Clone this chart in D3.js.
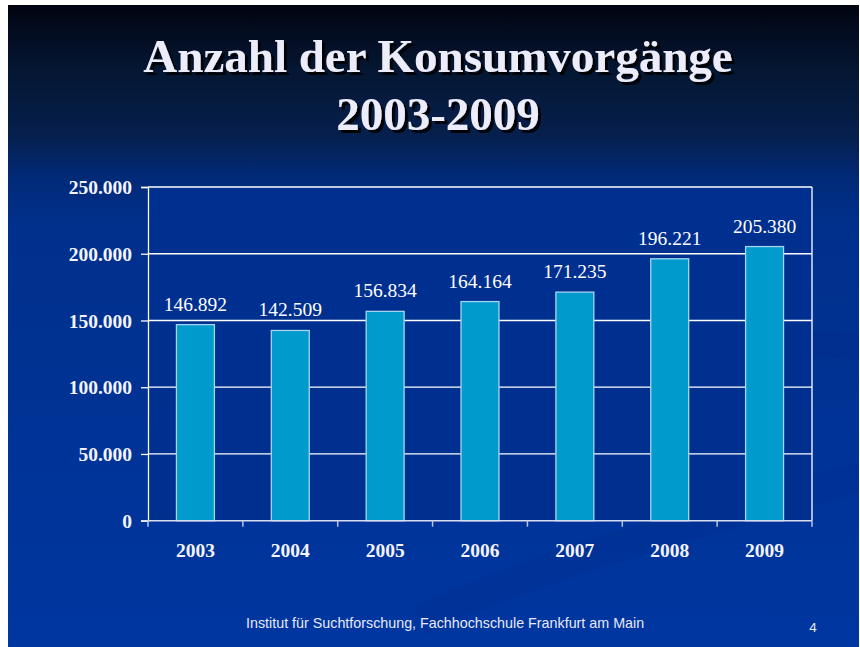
<!DOCTYPE html>
<html><head><meta charset="utf-8">
<script src="https://cdn.jsdelivr.net/npm/d3@7/dist/d3.min.js"></script>
<style>html,body{margin:0;padding:0;background:#fff;}svg{display:block;}</style>
</head><body>
<script>
const years = ["2003","2004","2005","2006","2007","2008","2009"];
const counts = [146892, 142509, 156834, 164164, 171235, 196221, 205380];
const yTicks = [0, 50000, 100000, 150000, 200000, 250000];
const titleLines = ["Anzahl der Konsumvorgänge", "2003-2009"];
const footerText = "Institut für Suchtforschung, Fachhochschule Frankfurt am Main";
const pageNumber = "4";

const W = 860, H = 647;
const svg = d3.select("body").append("svg").attr("width", W).attr("height", H);
const defs = svg.append("defs");
const bg = defs.append("linearGradient").attr("id","bg").attr("x1",0).attr("y1",0).attr("x2",0).attr("y2",1);
[[0,"#02030f"],[0.03,"#030a1c"],[0.1,"#041631"],[0.2,"#061f4c"],[0.27,"#012a78"],[0.34,"#00308c"],[1,"#0036a0"]]
  .forEach(([o,c]) => bg.append("stop").attr("offset",o).attr("stop-color",c));
const sh = defs.append("filter").attr("id","tshadow").attr("x","-5%").attr("y","-20%").attr("width","110%").attr("height","140%");
sh.append("feDropShadow").attr("dx",3).attr("dy",3).attr("stdDeviation",0.6).attr("flood-color","#000").attr("flood-opacity",0.9);

const slide = {x: 8, y: 5, w: 851, h: 642};
defs.append("clipPath").attr("id","slideclip").append("rect")
  .attr("x",slide.x).attr("y",slide.y).attr("width",slide.w).attr("height",slide.h);
svg.append("rect").attr("x",slide.x).attr("y",slide.y).attr("width",slide.w).attr("height",slide.h).attr("fill","url(#bg)");

// subtle swooshes
const sw = svg.append("g").attr("fill","none").attr("clip-path","url(#slideclip)");
sw.append("path").attr("d","M 500 470 C 620 360, 780 330, 880 350").attr("stroke","#002c8c").attr("stroke-width",26).attr("opacity",0.35);
sw.append("path").attr("d","M 700 360 C 640 390, 640 450, 760 500").attr("stroke","#002c8c").attr("stroke-width",18).attr("opacity",0.3);
sw.append("path").attr("d","M 420 620 C 600 540, 760 510, 880 470").attr("stroke","#002c8c").attr("stroke-width",30).attr("opacity",0.3);

// title
const title = svg.append("g").attr("filter","url(#tshadow)")
  .attr("font-family","'Liberation Serif','Times New Roman',serif").attr("font-weight","bold")
  .attr("font-size",47).attr("fill","#ececfa").attr("text-anchor","middle");
titleLines.forEach((t,i) => title.append("text").attr("x",438).attr("y",72 + i*58).text(t));

// chart
const m = {left:148, right:812, top:187, bottom:520.7};
const x = d3.scaleBand().domain(years).range([m.left, m.right]).paddingInner(0.6).paddingOuter(0.3);
const y = d3.scaleLinear().domain([0, 250000]).range([m.bottom, m.top]);
const loc = d3.formatLocale({decimal:",", thousands:".", grouping:[3], currency:["","€"]});
const fmt = loc.format(",d");

const g = svg.append("g");
g.append("rect").attr("x",m.left).attr("y",m.top).attr("width",m.right-m.left).attr("height",m.bottom-m.top).attr("fill","#00308f");

g.append("g").selectAll("line").data(yTicks.filter(d=>d>0)).join("line")
  .attr("x1",m.left).attr("x2",m.right).attr("y1",d=>y(d)).attr("y2",d=>y(d))
  .attr("stroke","#ffffff").attr("stroke-width",1.3);
g.append("line").attr("x1",m.right).attr("x2",m.right).attr("y1",m.top).attr("y2",m.bottom).attr("stroke","#fff").attr("stroke-width",1.3);

g.append("g").selectAll("rect").data(counts).join("rect")
  .attr("x",(d,i)=>x(years[i])).attr("width",x.bandwidth())
  .attr("y",d=>y(d)).attr("height",d=>y(0)-y(d))
  .attr("fill","#009acd").attr("stroke","#a6d4f0").attr("stroke-width",1.3);

g.append("g").selectAll("text").data(counts).join("text")
  .attr("x",(d,i)=>x(years[i])+x.bandwidth()/2).attr("y",d=>y(d)-14)
  .attr("text-anchor","middle").attr("font-family","'Liberation Serif','Times New Roman',serif")
  .attr("font-size",19.5).attr("fill","#ffffff").text(d=>fmt(d));

const yAxis = d3.axisLeft(y).tickValues(yTicks).tickFormat(d=>fmt(d)).tickSize(7).tickPadding(9);
const ya = g.append("g").attr("transform",`translate(${m.left},0)`).call(yAxis);
ya.select(".domain").attr("stroke","#fff").attr("stroke-width",1.3);
ya.selectAll(".tick line").attr("stroke","#fff").attr("stroke-width",1.3);
ya.selectAll("text").attr("font-family","'Liberation Serif','Times New Roman',serif").attr("font-weight","bold")
  .attr("font-size",19.5).attr("fill","#f4f4ff").attr("dy","0.34em");

const bounds = d3.range(years.length+1).map(i => m.left + i*(m.right-m.left)/years.length);
g.append("line").attr("x1",m.left-7).attr("x2",m.right).attr("y1",m.bottom).attr("y2",m.bottom).attr("stroke","#d8def0").attr("stroke-width",1.5);
g.append("g").selectAll("line").data(bounds).join("line")
  .attr("x1",d=>d).attr("x2",d=>d).attr("y1",m.bottom).attr("y2",m.bottom+6)
  .attr("stroke","#b8c4e4").attr("stroke-width",1.5);
g.append("g").selectAll("text").data(years).join("text")
  .attr("x",d=>x(d)+x.bandwidth()/2).attr("y",557).attr("text-anchor","middle")
  .attr("font-family","'Liberation Serif','Times New Roman',serif").attr("font-weight","bold")
  .attr("font-size",19.5).attr("fill","#f4f4ff").text(d=>d);

svg.append("text").attr("x",246).attr("y",628).attr("font-family","'Liberation Sans',Arial,sans-serif")
  .attr("font-size",14.3).attr("fill","#e6e8f6").text(footerText);
svg.append("text").attr("x",813).attr("y",632).attr("text-anchor","middle").attr("font-family","'Liberation Sans',Arial,sans-serif")
  .attr("font-size",13.5).attr("fill","#e6e8f6").text(pageNumber);
</script>
</body></html>
